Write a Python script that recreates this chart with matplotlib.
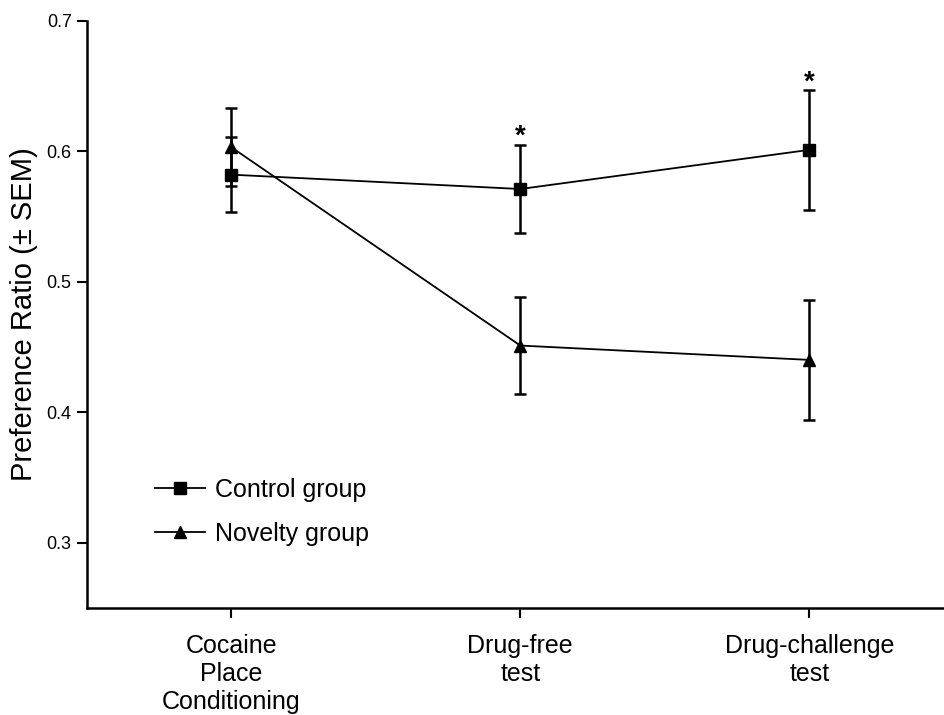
import numpy as np
import matplotlib.pyplot as plt
from matplotlib.lines import Line2D

plt.rcParams['font.family'] = ['Liberation Sans', 'DejaVu Sans']

phases = ["Cocaine\nPlace\nConditioning", "Drug-free\ntest", "Drug-challenge\ntest"]
control_mean = [0.582, 0.571, 0.601]
control_sem = [0.029, 0.034, 0.046]
novelty_mean = [0.603, 0.451, 0.440]
novelty_sem = [0.030, 0.037, 0.046]
signif = [False, True, True]

x = np.arange(len(phases))

fig = plt.figure(figsize=(9.45, 7.15), dpi=100)
ax = fig.add_axes([0.092, 0.15, 0.908, 0.821])

style = dict(color='black', markersize=9, linewidth=1.3, elinewidth=1.8,
             capsize=4.5, capthick=1.8)
ax.errorbar(x, control_mean, yerr=control_sem, marker='s', **style)
ax.errorbar(x, novelty_mean, yerr=novelty_sem, marker='^', **style)

# asterisks over the control group where the groups differ
for xi, m, s, sig in zip(x, control_mean, control_sem, signif):
    if sig:
        ax.annotate('*', (xi, m + s), xytext=(0, 5.5), textcoords='offset points',
                    ha='center', va='center', fontsize=20, fontweight='bold')

ax.set_xlim(-0.5, 2.47)
ax.set_ylim(0.25, 0.7)
ax.set_yticks([0.3, 0.4, 0.5, 0.6, 0.7])
ax.set_yticklabels(['0.3', '0.4', '0.5', '0.6', '0.7'])
ax.set_xticks(x)
ax.set_xticklabels(phases, fontsize=18, linespacing=1.2)
ax.tick_params(axis='y', labelsize=13, length=7, width=1.5, direction='out', pad=4)
ax.tick_params(axis='x', length=7, width=1.5, direction='out', pad=12)

for side in ['top', 'right']:
    ax.spines[side].set_visible(False)
for side in ['left', 'bottom']:
    ax.spines[side].set_linewidth(1.8)

ax.set_ylabel('Preference Ratio (± SEM)', fontsize=21, labelpad=6)

handles = [
    Line2D([], [], color='black', marker='s', markersize=9, linewidth=1.3),
    Line2D([], [], color='black', marker='^', markersize=9, linewidth=1.3),
]
ax.legend(handles, ['Control group', 'Novelty group'], loc='upper left',
          bbox_to_anchor=(0.053, 0.26), frameon=False, fontsize=18,
          handlelength=2.0, handletextpad=0.4, labelspacing=0.8)

fig.savefig('out.png', dpi=100)
